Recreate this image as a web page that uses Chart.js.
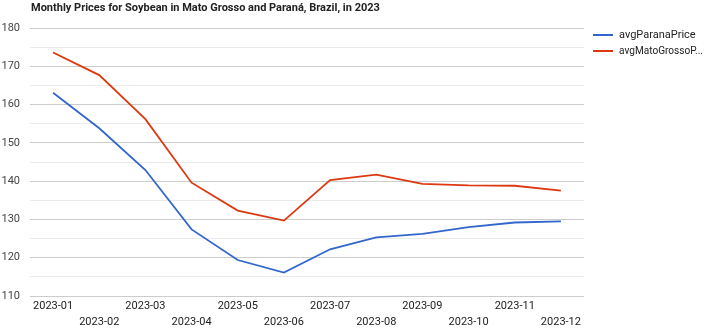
<!DOCTYPE html>
<html><head><meta charset="utf-8">
<script src="https://cdn.jsdelivr.net/npm/chart.js@4/dist/chart.umd.min.js"></script>
<style>html,body{margin:0;padding:0;background:#fff}#wrap{width:709px;height:329px;position:relative}</style>
</head><body><div id="wrap"><canvas id="c" width="709" height="329"></canvas></div>
<script>
const title = "Monthly Prices for Soybean in Mato Grosso and Paraná, Brazil, in 2023";
const months = ["2023-01","2023-02","2023-03","2023-04","2023-05","2023-06","2023-07","2023-08","2023-09","2023-10","2023-11","2023-12"];
const avgParanaPrice = [163.1,153.8,142.9,127.4,119.4,116.1,122.2,125.3,126.2,128.0,129.2,129.5];
const avgMatoGrossoPrice = [173.6,167.7,156.2,139.6,132.3,129.7,140.3,141.7,139.3,138.9,138.8,137.5];
const yMin = 110, yMax = 180, yStep = 5, yLabelStep = 10;
const FONT = "Roboto, 'Noto Sans', Arial, sans-serif";
const legendMaxChars = 14;

const overlay = {
  id: 'overlay',
  afterDraw(chart) {
    const ctx = chart.ctx;
    ctx.save();
    ctx.fillStyle = '#222';
    ctx.font = "bold 11px " + FONT;
    ctx.textBaseline = 'middle';
    ctx.textAlign = 'left';
    ctx.fillText(title, 31, 8);
    // legend
    ctx.font = "11px " + FONT;
    const x0 = 593, lx = 619, maxW = 84;
    chart.data.datasets.forEach((ds, i) => {
      const y = 35 + i * 16;
      ctx.strokeStyle = ds.borderColor;
      ctx.lineWidth = 2;
      ctx.beginPath(); ctx.moveTo(x0, y); ctx.lineTo(x0 + 20, y); ctx.stroke();
      let t = ds.label;
      if (t.length > legendMaxChars + 1) t = t.slice(0, legendMaxChars) + '...';
      ctx.fillStyle = '#222';
      ctx.fillText(t, lx, y, maxW);
    });
    ctx.restore();
  }
};

new Chart(document.getElementById('c'), {
  type: 'line',
  data: {
    labels: months.map((m, i) => i % 2 === 0 ? [m, ''] : ['', m]),
    datasets: [
      { label: 'avgParanaPrice', data: avgParanaPrice, borderColor: '#3366cc', borderWidth: 1.8, pointRadius: 0, tension: 0, fill: false },
      { label: 'avgMatoGrossoPrice', data: avgMatoGrossoPrice, borderColor: '#dc3912', borderWidth: 1.8, pointRadius: 0, tension: 0, fill: false }
    ]
  },
  options: {
    responsive: false,
    animation: false,
    events: [],
    layout: { padding: { top: 28, right: 125, left: 0, bottom: 0 } },
    plugins: { legend: { display: false }, title: { display: false }, tooltip: { enabled: false } },
    scales: {
      x: {
        offset: true,
        grid: { display: false, drawTicks: false },
        border: { display: false },
        ticks: { color: '#222', font: { family: FONT, size: 11, lineHeight: '16px' }, padding: 2, maxRotation: 0, autoSkip: false },
        afterFit(s) { s.height = 33; }
      },
      y: {
        min: yMin, max: yMax,
        border: { display: false },
        grid: {
          drawTicks: false,
          color: ctx => (ctx.tick && ctx.tick.value % yLabelStep === 0) ? '#cccccc' : '#ebebeb',
          lineWidth: 1
        },
        ticks: {
          stepSize: yStep,
          color: '#444',
          font: { family: FONT, size: 11 },
          padding: 10,
          callback: v => (v % yLabelStep === 0 ? String(v) : '')
        },
        afterFit(s) { s.width = 30; }
      }
    }
  },
  plugins: [overlay]
});
</script></body></html>
